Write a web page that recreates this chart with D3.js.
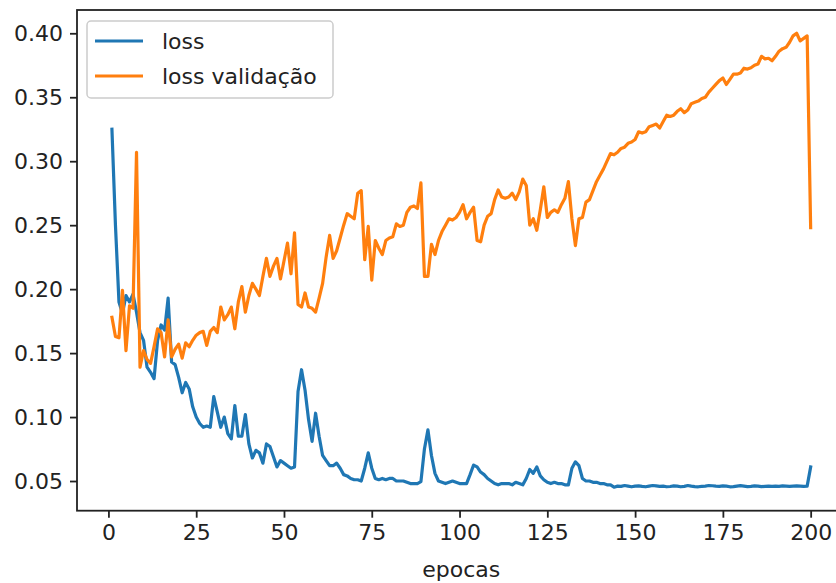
<!DOCTYPE html>
<html>
<head>
<meta charset="utf-8">
<script src="https://cdn.jsdelivr.net/npm/d3@7"></script>
<style>
  body { margin: 0; background: #fff; }
  svg { display: block; font-family: "DejaVu Sans", sans-serif; }
</style>
</head>
<body>
<svg width="836" height="583"></svg>
<script>
// values, epochs 1..200
var loss = [
  0.325, 0.250, 0.190, 0.181, 0.195, 0.190, 0.196, 0.182, 0.166, 0.160,
  0.139, 0.135, 0.130, 0.160, 0.172, 0.168, 0.193, 0.143, 0.141, 0.131,
  0.119, 0.127, 0.122, 0.108, 0.100, 0.095, 0.092, 0.093, 0.092, 0.116,
  0.104, 0.092, 0.100, 0.087, 0.083, 0.109, 0.085, 0.085, 0.102, 0.079,
  0.068, 0.074, 0.072, 0.064, 0.079, 0.077, 0.069, 0.061, 0.066, 0.064,
  0.062, 0.060, 0.061, 0.120, 0.137, 0.121, 0.098, 0.081, 0.103, 0.085,
  0.070, 0.066, 0.062, 0.062, 0.064, 0.060, 0.055, 0.054, 0.052, 0.051,
  0.051, 0.050, 0.060, 0.072, 0.060, 0.052, 0.051, 0.052, 0.051, 0.052,
  0.052, 0.050, 0.050, 0.050, 0.049, 0.048, 0.048, 0.048, 0.0495, 0.075,
  0.090, 0.070, 0.056, 0.050, 0.049, 0.048, 0.049, 0.050, 0.049, 0.048,
  0.048, 0.048, 0.055, 0.0625, 0.061, 0.057, 0.055, 0.052, 0.050, 0.048,
  0.047, 0.048, 0.048, 0.048, 0.047, 0.049, 0.048, 0.047, 0.052, 0.059,
  0.056, 0.061, 0.054, 0.051, 0.049, 0.048, 0.049, 0.048, 0.048, 0.047,
  0.047, 0.060, 0.065, 0.062, 0.052, 0.050, 0.050, 0.049, 0.049, 0.048,
  0.048, 0.047, 0.047, 0.0452, 0.046, 0.0458, 0.0465, 0.046, 0.0455, 0.046,
  0.0462, 0.0458, 0.0455, 0.046, 0.0465, 0.0462, 0.0458, 0.046, 0.0455, 0.0457,
  0.0462, 0.046, 0.0455, 0.0458, 0.0465, 0.046, 0.0456, 0.0455, 0.0458, 0.046,
  0.0465, 0.0463, 0.046, 0.0458, 0.0462, 0.046, 0.0455, 0.0456, 0.046, 0.0464,
  0.046, 0.0456, 0.0458, 0.0462, 0.046, 0.0456, 0.0458, 0.046, 0.0458, 0.046,
  0.0458, 0.0462, 0.046, 0.0458, 0.046, 0.0462, 0.046, 0.0458, 0.046, 0.061
];

var valLoss = [
  0.178, 0.163, 0.162, 0.199, 0.152, 0.187, 0.185, 0.307, 0.139, 0.152,
  0.145, 0.142, 0.155, 0.169, 0.166, 0.147, 0.176, 0.147, 0.153, 0.157,
  0.146, 0.158, 0.155, 0.160, 0.164, 0.166, 0.167, 0.156, 0.167, 0.170,
  0.166, 0.186, 0.176, 0.180, 0.186, 0.169, 0.190, 0.202, 0.182, 0.195,
  0.2045, 0.200, 0.195, 0.210, 0.224, 0.210, 0.218, 0.224, 0.208, 0.222,
  0.236, 0.212, 0.244, 0.188, 0.186, 0.197, 0.186, 0.185, 0.182, 0.193,
  0.2045, 0.225, 0.242, 0.224, 0.230, 0.240, 0.250, 0.259, 0.257, 0.255,
  0.275, 0.277, 0.223, 0.249, 0.207, 0.238, 0.232, 0.227, 0.238, 0.240,
  0.241, 0.251, 0.249, 0.250, 0.260, 0.264, 0.265, 0.263, 0.283, 0.210,
  0.210, 0.235, 0.227, 0.238, 0.245, 0.250, 0.255, 0.254, 0.256, 0.260,
  0.266, 0.255, 0.260, 0.264, 0.238, 0.237, 0.250, 0.257, 0.259, 0.270,
  0.2775, 0.272, 0.271, 0.272, 0.275, 0.270, 0.276, 0.286, 0.281, 0.250,
  0.255, 0.246, 0.262, 0.280, 0.256, 0.260, 0.262, 0.260, 0.266, 0.271,
  0.284, 0.255, 0.234, 0.255, 0.256, 0.268, 0.270, 0.277, 0.284, 0.289,
  0.294, 0.300, 0.306, 0.305, 0.307, 0.310, 0.311, 0.314, 0.315, 0.317,
  0.323, 0.322, 0.323, 0.327, 0.328, 0.329, 0.326, 0.331, 0.336, 0.335,
  0.336, 0.339, 0.341, 0.338, 0.340, 0.345, 0.346, 0.347, 0.349, 0.350,
  0.354, 0.357, 0.360, 0.363, 0.365, 0.360, 0.364, 0.368, 0.368, 0.369,
  0.3727, 0.372, 0.373, 0.375, 0.376, 0.382, 0.380, 0.3805, 0.3785, 0.382,
  0.386, 0.388, 0.389, 0.393, 0.398, 0.400, 0.394, 0.396, 0.398, 0.248
];

var xTicks = [0, 25, 50, 75, 100, 125, 150, 175, 200];
var yTicks = [0.05, 0.10, 0.15, 0.20, 0.25, 0.30, 0.35, 0.40];
var seriesNames = ["loss", "loss validação"];
var seriesColors = ["#1f77b4", "#ff7f0e"];

var svg = d3.select("svg");

// plot area; right spine falls just outside the picture like in the reference
var plotL = 77, plotR = 845.6, plotT = 10, plotB = 510.7;

var x = d3.scaleLinear().domain([-8.95, 209.95]).range([plotL, plotR]);
var y = d3.scaleLinear().domain([0.0268, 0.4182]).range([plotB, plotT]);

var epochs = d3.range(1, loss.length + 1);

var line = d3.line()
    .x((d, i) => x(epochs[i]))
    .y(d => y(d));

svg.append("clipPath").attr("id", "plot")
    .append("rect")
    .attr("x", plotL).attr("y", plotT)
    .attr("width", plotR - plotL).attr("height", plotB - plotT);

var plot = svg.append("g").attr("clip-path", "url(#plot)");

[loss, valLoss].forEach(function(s, k) {
    plot.append("path")
        .datum(s)
        .attr("fill", "none")
        .attr("stroke", seriesColors[k])
        .attr("stroke-width", 3.2)
        .attr("stroke-linejoin", "round")
        .attr("stroke-linecap", "square")
        .attr("d", line);
});

// axes
var xAxis = d3.axisBottom(x).tickValues(xTicks).tickSize(7).tickPadding(7)
    .tickFormat(d3.format("d"));
var yAxis = d3.axisLeft(y).tickValues(yTicks).tickSize(7).tickPadding(7)
    .tickFormat(d3.format(".2f"));

var gx = svg.append("g").attr("transform", "translate(0," + plotB + ")").call(xAxis);
var gy = svg.append("g").attr("transform", "translate(" + plotL + ",0)").call(yAxis);

[gx, gy].forEach(function(g) {
    g.select(".domain").remove();
    g.selectAll(".tick line").attr("stroke", "#222").attr("stroke-width", 1.8);
    g.selectAll(".tick text")
        .attr("fill", "#222")
        .style("font-size", "22px")
        .style("font-family", "DejaVu Sans");
});

// spines
svg.append("rect")
    .attr("x", plotL).attr("y", plotT)
    .attr("width", plotR - plotL).attr("height", plotB - plotT)
    .attr("fill", "none")
    .attr("stroke", "#222")
    .attr("stroke-width", 1.8);

svg.append("text")
    .attr("x", (plotL + plotR) / 2)
    .attr("y", 577)
    .attr("text-anchor", "middle")
    .attr("fill", "#222")
    .style("font-size", "22px")
    .text("epocas");

// legend
var legend = svg.append("g");
legend.append("rect")
    .attr("x", 87).attr("y", 21)
    .attr("width", 246).attr("height", 77)
    .attr("rx", 4)
    .attr("fill", "#fff")
    .attr("fill-opacity", 0.8)
    .attr("stroke", "#ccc")
    .attr("stroke-width", 1.5);

seriesNames.forEach(function(name, k) {
    var ly = 41 + k * 35;
    legend.append("line")
        .attr("x1", 95).attr("x2", 143)
        .attr("y1", ly).attr("y2", ly)
        .attr("stroke", seriesColors[k])
        .attr("stroke-width", 3.2);
    legend.append("text")
        .attr("x", 162).attr("y", ly + 8)
        .attr("fill", "#222")
        .style("font-size", "22px")
        .text(name);
});
</script>
</body>
</html>
